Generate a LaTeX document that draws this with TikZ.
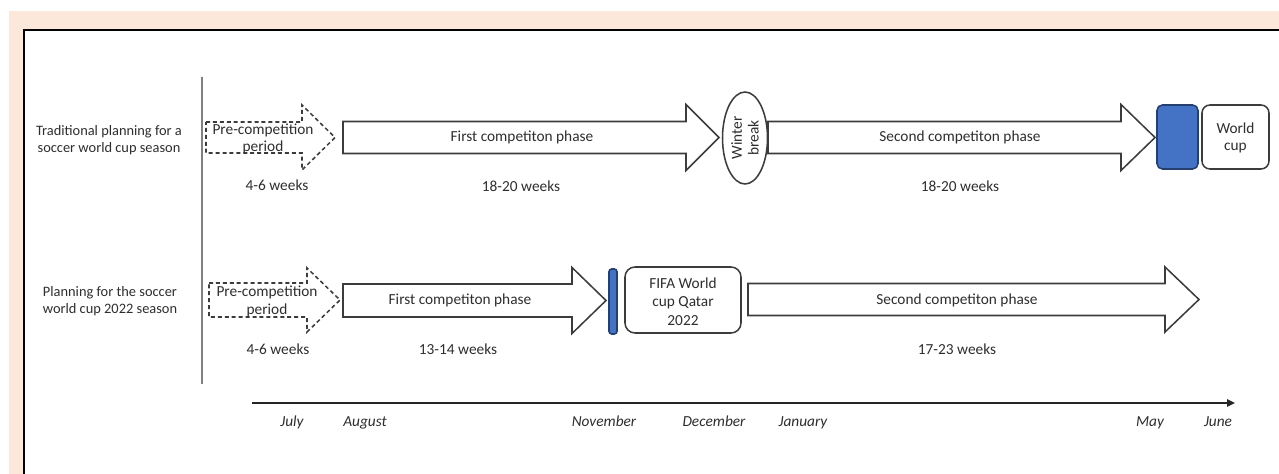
\documentclass[tikz,border=0pt]{standalone}
\usepackage{fontspec}
\setmainfont{Carlito}
\usetikzlibrary{shapes.geometric,arrows.meta}
\definecolor{peach}{HTML}{FCE8DA}
\definecolor{ink}{HTML}{2E2E2E}
\definecolor{outl}{HTML}{3C3C3C}
\definecolor{bluefill}{HTML}{4472C4}
\definecolor{blueedge}{HTML}{25406F}
\tikzset{
  blockarrow/.style={draw=outl, line width=1.15pt, fill=white, line join=miter},
  dasharrow/.style={draw=outl, line width=1.15pt, dash pattern=on 3pt off 2.2pt, fill=white},
  lbl/.style={text=ink, font=\fontsize{11.5}{13}\selectfont, align=center, inner sep=0pt},
  sidelbl/.style={lbl, font=\fontsize{10.8}{12.75}\selectfont},
  month/.style={lbl, anchor=base, font=\fontsize{11.5}{13}\selectfont\itshape},
  roundbox/.style={draw=outl, line width=1.15pt, fill=white, inner sep=0pt},
  bluebox/.style={draw=blueedge, line width=1.15pt, fill=bluefill, inner sep=0pt},
  axisline/.style={draw=black!85, line width=1.6pt, -{Triangle[length=6pt,width=5.5pt]}}
}
\begin{document}
\begin{tikzpicture}[x=0.75pt, y=-0.75pt]
\useasboundingbox (0,0) rectangle (1279,474);
% background frame
\fill[peach] (9,11) rectangle (1279,474);
\fill[white] (24,30) rectangle (1279,474);
\draw[black, line width=1.6pt] (24,480) -- (24,30) -- (1285,30);
% separator
\draw[black!50, line width=1pt] (202,77) -- (202,384);

% side labels
\node[sidelbl] (side1) at (109,140.5) {Traditional planning for a\\soccer world cup season};
\node[sidelbl] (side2) at (110,301.5) {Planning for the soccer\\world cup 2022 season};

% ---------- row 1 ----------
\path[dasharrow] (206,122) -- (302,122) -- (302,105) -- (335,137.5) -- (302,170) -- (302,153) -- (206,153) -- cycle;
\node[lbl] (pre1) at (263,139) {Pre-competition\\period};
\node[lbl] (w1a) at (277,185) {4-6 weeks};

\path[blockarrow] (343,121.5) -- (686,121.5) -- (686,104.5) -- (719,137.5) -- (686,170.5) -- (686,153.5) -- (343,153.5) -- cycle;
\node[lbl] (fc1) at (522,137) {First competiton phase};
\node[lbl] (w1b) at (521,186) {18-20 weeks};

\node[ellipse, draw=outl, line width=1.15pt, fill=white, rotate=90, minimum width=69pt, minimum height=33.75pt, inner sep=0pt, text=ink, align=center, font=\fontsize{11.5}{12.5}\selectfont] (winter) at (745,138) {Winter\\break};

\path[blockarrow] (768,121.5) -- (1121,121.5) -- (1121,104.5) -- (1155,137.5) -- (1121,170.5) -- (1121,153.5) -- (768,153.5) -- cycle;
\node[lbl] (sc1) at (960,137) {Second competiton phase};
\node[lbl] (w1c) at (960,186) {18-20 weeks};

\node[bluebox, rounded corners=4pt, minimum width=30.75pt, minimum height=48pt] (blue1) at (1177.5,137) {};
\node[roundbox, rounded corners=6pt, minimum width=50.25pt, minimum height=48pt] (wc) at (1235.5,137) {};
\node[lbl] (wctext) at (1235.5,138) {World\\cup};

% ---------- row 2 ----------
\path[dasharrow] (209,283) -- (307,283) -- (307,268) -- (340,300) -- (307,332) -- (307,317) -- (209,317) -- cycle;
\node[lbl] (pre2) at (267,301.5) {Pre-competition\\period};
\node[lbl] (w2a) at (278,349) {4-6 weeks};

\path[blockarrow] (343,284) -- (572,284) -- (572,267.5) -- (606,300.5) -- (572,333.5) -- (572,317) -- (343,317) -- cycle;
\node[lbl] (fc2) at (460,300) {First competiton phase};
\node[lbl] (w2b) at (458,349) {13-14 weeks};

\node[bluebox, rounded corners=2pt, minimum width=6pt, minimum height=48.75pt] (blue2) at (613,301.5) {};
\node[roundbox, rounded corners=7.5pt, minimum width=87pt, minimum height=49.5pt] (fifa) at (683,300) {};
\node[lbl, font=\fontsize{11.5}{13.9}\selectfont] (fifatext) at (683,301.5) {FIFA World\\cup Qatar\\2022};

\path[blockarrow] (748,283.5) -- (1165,283.5) -- (1165,267) -- (1199,299.5) -- (1165,332) -- (1165,315.5) -- (748,315.5) -- cycle;
\node[lbl] (sc2) at (957,300) {Second competiton phase};
\node[lbl] (w2c) at (957,349) {17-23 weeks};

% ---------- time axis ----------
\coordinate (ax0) at (252,403);
\coordinate (ax1) at (1235,403);
\draw[axisline] (ax0) -- (ax1);
\node[month] (jul) at (292,426) {July};
\node[month] (aug) at (365,426) {August};
\node[month] (nov) at (604,426) {November};
\node[month] (dec) at (714,426) {December};
\node[month] (jan) at (803,426) {January};
\node[month] (may) at (1150,426) {May};
\node[month] (jun) at (1218,426) {June};
\end{tikzpicture}
\end{document}
